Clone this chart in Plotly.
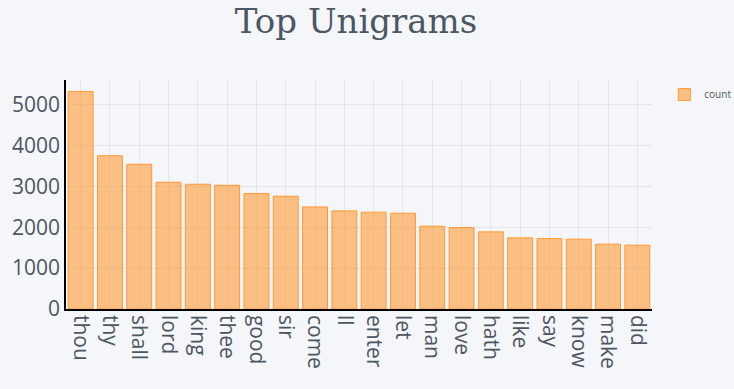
import plotly.graph_objects as go

words = ["thou", "thy", "shall", "lord", "king", "thee", "good", "sir", "come", "ll",
         "enter", "let", "man", "love", "hath", "like", "say", "know", "make", "did"]
counts = [5317, 3746, 3537, 3098, 3049, 3024, 2820, 2756, 2495, 2398,
          2366, 2341, 2024, 1990, 1885, 1739, 1722, 1707, 1585, 1561]

fig = go.Figure(go.Bar(
    x=words, y=counts, name="count", showlegend=True,
    marker=dict(color="rgba(255,153,51,0.6)", line=dict(color="rgba(255,153,51,1.0)", width=1)),
))

fig.update_layout(
    width=734, height=389,
    paper_bgcolor="#F5F6F9", plot_bgcolor="#F5F6F9",
    margin=dict(l=66, r=82, t=80, b=80, autoexpand=False),
    title=dict(text="Top Unigrams", xref="paper", x=0.495, xanchor="center", y=0.945, yanchor="middle",
               font=dict(family="DejaVu Serif, Liberation Serif, serif", size=34, color="#4D5663")),
    font=dict(family="Open Sans", color="#4D5663"),
    bargap=0.15,
    legend=dict(font=dict(size=10, color="#4D5663"), bgcolor="rgba(0,0,0,0)",
                x=1.021, y=1, xanchor="left", yanchor="top"),
    xaxis=dict(showgrid=True, gridcolor="#E1E5ED", tickfont=dict(size=21, color="#4D5663"),
               tickangle=90, showline=True, linecolor="black", linewidth=1.5, zeroline=False),
    yaxis=dict(showgrid=True, gridcolor="#E1E5ED", tickfont=dict(size=21, color="#4D5663"),
               showline=True, linecolor="black", linewidth=1.5, zeroline=False),
)

fig.write_html("out.html", config={"displayModeBar": False},
               post_script="document.body.style.margin='0';document.body.style.background='#F5F6F9';")
